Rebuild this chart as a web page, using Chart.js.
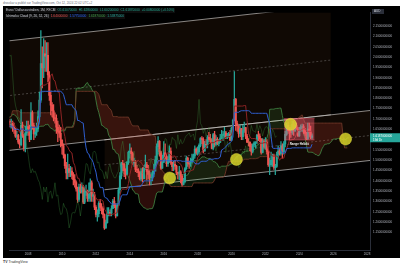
<!DOCTYPE html>
<html>
<head>
<meta charset="utf-8">
<script src="https://cdn.jsdelivr.net/npm/chart.js@4.4.1/dist/chart.umd.min.js"></script>
<style>
body{margin:0;width:400px;height:269px;background:#fff;overflow:hidden;position:relative;font-family:"Liberation Sans",Arial,sans-serif}
#hdr{position:absolute;left:3px;top:0;font-size:3px;line-height:6px;color:#6a6d78;white-space:nowrap}
#box{position:absolute;left:3px;top:6px;width:397px;height:252px;background:#000}
#leg{position:absolute;left:2px;top:2px;font-size:3.2px;line-height:5px;color:#d1d4dc;white-space:nowrap;z-index:2}
#leg div{background:rgba(16,16,16,.85);display:table;padding:0 1px;margin-bottom:.5px}
#leg span{margin-left:2px}
#ftr{position:absolute;left:3px;top:260px;font-size:3.5px;color:#333;white-space:nowrap}
#ftr b{font-size:3.5px;margin-right:1px}
</style>
</head>
<body>
<div id="hdr">drosskar a publié sur TradingView.com, Oct 12, 2024 22:02 UTC+2</div>
<div id="box">
  <canvas id="chart"></canvas>
  <div id="leg"><div id="leg1"></div><div id="leg2"></div></div>
</div>
<div id="ftr"><b>TV</b>TradingView</div>
<script>
// monthly EUR/AUD candles, first bar = July 2000
var startYear = 2000.5;
var firstOpen = 1.590;
var closes = [
 1.600,1.540,1.625,1.640,1.665,1.680,
 1.705,1.745,1.800,1.765,1.705,1.670,1.730,1.705,1.840,1.780,1.740,1.745,
 1.690,1.660,1.645,1.665,1.680,1.760,1.800,1.810,1.805,1.760,1.780,1.860,
 1.810,1.800,1.810,1.770,1.780,1.720,1.760,1.720,1.700,1.640,1.630,1.680,
 1.620,1.630,1.620,1.690,1.690,1.740,1.720,1.730,1.710,1.680,1.700,1.740,
 1.720,1.670,1.680,1.690,1.610,1.600,1.600,1.620,1.580,1.620,1.600,1.610,
 1.630,1.610,1.690,1.640,1.670,1.720,1.700,1.680,1.660,1.690,1.690,1.673,
 1.682,1.660,1.651,1.617,1.620,1.587,1.576,1.669,1.618,1.556,1.632,1.663,
 1.653,1.601,1.731,1.668,1.628,1.636,1.652,1.711,1.791,1.968,1.948,2.016,
 2.004,2.009,1.913,1.814,1.767,1.740,1.705,1.703,1.660,1.640,1.631,1.596,
 1.571,1.526,1.474,1.438,1.459,1.441,1.447,1.428,1.406,1.392,1.361,1.310,
 1.370,1.346,1.370,1.297,1.345,1.351,1.315,1.342,1.391,1.326,1.332,1.272,
 1.237,1.241,1.291,1.271,1.266,1.237,1.172,1.198,1.243,1.247,1.244,1.266,
 1.302,1.280,1.230,1.282,1.357,1.424,1.484,1.480,1.448,1.433,1.490,1.538,
 1.545,1.532,1.487,1.491,1.456,1.453,1.440,1.410,1.445,1.411,1.465,1.479,
 1.446,1.431,1.415,1.415,1.434,1.447,1.502,1.566,1.592,1.541,1.462,1.490,
 1.536,1.516,1.483,1.503,1.544,1.491,1.469,1.480,1.472,1.441,1.436,1.444,
 1.423,1.383,1.396,1.459,1.510,1.485,1.481,1.496,1.506,1.521,1.554,1.536,
 1.541,1.572,1.605,1.601,1.544,1.577,1.575,1.611,1.601,1.598,1.557,1.624,
 1.577,1.601,1.580,1.588,1.607,1.620,1.624,1.633,1.614,1.619,1.627,1.597,
 1.656,1.693,1.795,1.678,1.667,1.630,1.653,1.614,1.644,1.658,1.617,1.588,
 1.587,1.567,1.543,1.574,1.584,1.586,1.622,1.617,1.604,1.538,1.591,1.563,
 1.588,1.543,1.478,1.479,1.499,1.521,1.465,1.470,1.528,1.545,1.533,1.570,
 1.541,1.579,1.625,1.669,1.643,1.641,1.635,1.674,1.642,1.668,1.651,1.618,
 1.645,1.661,1.663,1.651,1.630,1.605,1.651,1.636,1.6107,1.6187
];
var highs = [
 1.625,1.605,1.640,1.665,1.690,1.700,
 1.730,1.760,1.830,1.820,1.770,1.720,1.750,1.750,1.870,1.850,1.790,1.770,
 1.760,1.710,1.690,1.690,1.710,1.775,1.830,1.840,1.830,1.815,1.800,1.870,
 1.890,1.860,1.840,1.830,1.810,1.800,1.790,1.780,1.740,1.710,1.680,1.690,
 1.690,1.660,1.660,1.720,1.760,1.750,1.750,1.750,1.740,1.710,1.720,1.760,
 1.760,1.730,1.700,1.710,1.700,1.630,1.620,1.650,1.630,1.640,1.640,1.630,
 1.640,1.640,1.710,1.700,1.690,1.730,1.725,1.710,1.700,1.700,1.710,1.700,
 1.700,1.690,1.680,1.655,1.640,1.625,1.600,1.745,1.685,1.625,1.665,1.690,
 1.690,1.670,1.780,1.740,1.680,1.660,1.680,1.740,1.830,2.128,2.050,2.090,
 2.080,2.070,2.070,1.930,1.830,1.780,1.770,1.730,1.720,1.690,1.670,1.660,
 1.600,1.580,1.530,1.490,1.530,1.480,1.470,1.465,1.440,1.430,1.400,1.370,
 1.385,1.385,1.390,1.378,1.370,1.380,1.355,1.390,1.410,1.400,1.360,1.345,
 1.280,1.260,1.300,1.310,1.290,1.275,1.240,1.210,1.270,1.270,1.260,1.280,
 1.310,1.320,1.290,1.290,1.365,1.440,1.490,1.500,1.485,1.460,1.495,1.545,
 1.580,1.560,1.540,1.510,1.500,1.475,1.460,1.445,1.460,1.465,1.475,1.525,
 1.490,1.475,1.450,1.440,1.450,1.480,1.520,1.580,1.615,1.595,1.545,1.525,
 1.590,1.580,1.530,1.520,1.570,1.560,1.490,1.495,1.500,1.475,1.440,1.470,
 1.450,1.430,1.412,1.465,1.520,1.515,1.495,1.510,1.530,1.530,1.570,1.560,
 1.565,1.580,1.610,1.615,1.610,1.592,1.600,1.620,1.635,1.625,1.605,1.630,
 1.640,1.620,1.610,1.600,1.625,1.645,1.640,1.660,1.640,1.630,1.635,1.645,
 1.660,1.700,1.930,1.800,1.690,1.660,1.670,1.655,1.670,1.685,1.660,1.625,
 1.605,1.590,1.580,1.580,1.590,1.590,1.625,1.640,1.628,1.605,1.605,1.600,
 1.610,1.600,1.550,1.510,1.540,1.530,1.530,1.480,1.540,1.570,1.560,1.590,
 1.580,1.590,1.640,1.680,1.685,1.660,1.660,1.690,1.690,1.685,1.680,1.660,
 1.660,1.672,1.675,1.673,1.655,1.635,1.680,1.680,1.665,1.628
];
var lows = [
 1.560,1.525,1.535,1.595,1.620,1.640,
 1.660,1.690,1.730,1.740,1.690,1.650,1.660,1.680,1.700,1.760,1.720,1.700,
 1.670,1.640,1.620,1.630,1.645,1.670,1.740,1.770,1.770,1.750,1.750,1.770,
 1.800,1.780,1.760,1.750,1.740,1.700,1.700,1.690,1.670,1.620,1.600,1.620,
 1.600,1.590,1.600,1.610,1.670,1.680,1.700,1.710,1.680,1.650,1.670,1.690,
 1.700,1.660,1.650,1.650,1.600,1.580,1.570,1.580,1.570,1.570,1.590,1.590,
 1.600,1.600,1.600,1.630,1.630,1.660,1.680,1.670,1.650,1.650,1.670,1.660,
 1.655,1.640,1.630,1.610,1.600,1.580,1.560,1.570,1.610,1.545,1.540,1.620,
 1.620,1.590,1.600,1.650,1.600,1.610,1.620,1.640,1.690,1.780,1.850,1.900,
 1.930,1.930,1.880,1.790,1.720,1.710,1.690,1.680,1.630,1.590,1.610,1.565,
 1.530,1.510,1.460,1.410,1.410,1.420,1.420,1.410,1.380,1.370,1.350,1.295,
 1.300,1.340,1.340,1.290,1.290,1.330,1.300,1.300,1.300,1.300,1.300,1.260,
 1.225,1.205,1.225,1.255,1.240,1.220,1.165,1.170,1.195,1.230,1.230,1.230,
 1.265,1.270,1.220,1.230,1.280,1.340,1.410,1.450,1.420,1.410,1.430,1.480,
 1.510,1.500,1.480,1.470,1.445,1.440,1.420,1.405,1.400,1.395,1.410,1.455,
 1.405,1.410,1.380,1.380,1.400,1.420,1.470,1.480,1.530,1.520,1.455,1.460,
 1.490,1.505,1.470,1.470,1.490,1.480,1.450,1.450,1.455,1.430,1.410,1.405,
 1.390,1.375,1.380,1.390,1.455,1.470,1.460,1.470,1.490,1.500,1.510,1.530,
 1.525,1.530,1.565,1.580,1.535,1.545,1.560,1.560,1.590,1.585,1.555,1.550,
 1.565,1.570,1.575,1.570,1.585,1.605,1.595,1.610,1.605,1.605,1.610,1.595,
 1.595,1.640,1.690,1.645,1.640,1.610,1.615,1.600,1.600,1.635,1.605,1.585,
 1.570,1.545,1.525,1.535,1.565,1.560,1.580,1.595,1.590,1.530,1.535,1.555,
 1.552,1.530,1.470,1.430,1.470,1.470,1.455,1.430,1.465,1.510,1.525,1.525,
 1.510,1.530,1.565,1.620,1.630,1.600,1.610,1.625,1.620,1.640,1.650,1.615,
 1.615,1.640,1.640,1.630,1.620,1.600,1.600,1.615,1.605,1.602
];
var yearTicks = [2008,2010,2012,2014,2016,2018,2020,2022,2024,2026,2028];
var priceTicks = [2.15,2.10,2.05,2.00,1.95,1.90,1.85,1.80,1.75,1.70,1.65,1.60,1.55,1.50,1.45,1.40,1.35,1.30,1.25,1.20,1.15];

// drawings (parallel channels, range box, marks)
var bigChanX = [2006.0, 2025.86];
var bigChanTop = [2.0708, 2.2510];
var bigChanMid = [1.8053, 1.9855];
var bigChanBot = [1.5398, 1.7200];
var lowChanX = [2012.5, 2028.5];
var lowChanTop = [1.5988, 1.7439];
var lowChanMid = [1.4778, 1.6229];
var lowChanBot = [1.3568, 1.5019];
var rangeX = [2023.1, 2024.9];
var rangeHigh = [1.702, 1.702];
var rangeLow = [1.598, 1.598];
var markX = [2016.35, 2020.29, 2023.48, 2026.73];
var markY = [1.414, 1.504, 1.674, 1.603];

var n = closes.length;
function t(i){ return startYear + i/12; }
function pts(xs, ys){ return xs.map(function(x,i){ return {x:x, y:ys[i]}; }); }
function mid(p, i){
  var h = -Infinity, l = Infinity;
  for (var k = i-p+1; k <= i; k++){ h = Math.max(h, highs[k]); l = Math.min(l, lows[k]); }
  return (h+l)/2;
}

var bodies = [], wicks = [], cols = [];
for (var i = 0; i < n; i++){
  var o = i ? closes[i-1] : firstOpen;
  var c = closes[i];
  cols.push(c >= o ? '#26a69a' : '#ef5350');
  bodies.push({x:t(i), y:[o, c]});
  wicks.push({x:t(i), y:[lows[i], highs[i]]});
}

var conv = [], base = [], lag = [], spanA = [], spanB = [];
for (var i = 0; i < n; i++){
  if (i >= 8) conv.push({x:t(i), y:mid(9,i)});
  if (i >= 25) base.push({x:t(i), y:mid(26,i)});
  if (i >= 25) lag.push({x:t(i-25), y:closes[i]});
  if (i >= 51){
    spanA.push({x:t(i+25), y:(mid(9,i)+mid(26,i))/2});
    spanB.push({x:t(i+25), y:mid(52,i)});
  }
}

var line = function(d, col, extra){
  var o = {type:'line', data:d, borderColor:col, borderWidth:1, pointRadius:0, fill:false, tension:0};
  for (var k in extra) o[k] = extra[k];
  return o;
};
var chanFill = 'rgba(150,85,40,0.11)';

var overlay = {
  id: 'overlay',
  afterDraw: function(chart){
    var ctx = chart.ctx, a = chart.chartArea, ys = chart.scales.y, xs = chart.scales.x;
    ctx.save();
    // currency box
    ctx.fillStyle = '#2a2e39';
    ctx.fillRect(a.right+2, 3, 12, 5);
    ctx.fillStyle = '#d1d4dc';
    ctx.font = '3px "Liberation Sans"';
    ctx.textBaseline = 'middle';
    ctx.fillText('AUD', a.right+4, 5.6);
    // last price label
    var last = closes[n-1];
    var py = ys.getPixelForValue(last);
    ctx.fillStyle = '#26a69a';
    ctx.fillRect(a.right, py-2.5, 30, 9);
    ctx.fillStyle = '#fff';
    ctx.fillText(last.toFixed(10), a.right+3, py+0.5);
    ctx.fillText('19d 1h', a.right+3, py+4.5);
    // range label
    ctx.font = 'bold 3px "Liberation Sans"';
    ctx.textAlign = 'center';
    ctx.fillStyle = '#e8e8e8';
    ctx.fillText('Range Hebdo', xs.getPixelForValue((rangeX[0]+rangeX[1])/2), ys.getPixelForValue(rangeLow[0]) + 4);
    ctx.restore();
  }
};

var chart = new Chart(document.getElementById('chart'), {
  type: 'bar',
  data: {
    datasets: [
      line(pts(bigChanX, bigChanTop), 'rgba(205,205,205,0.85)', {borderWidth:0.8, order:100}),
      line(pts(bigChanX, bigChanBot), 'rgba(205,205,205,0.85)', {borderWidth:0.8, order:99, fill:'-1', backgroundColor:chanFill}),
      line(pts(bigChanX, bigChanMid), 'rgba(170,170,170,0.6)', {borderWidth:0.6, borderDash:[2,2], order:98}),
      line(pts(lowChanX, lowChanTop), 'rgba(205,205,205,0.85)', {borderWidth:0.8, order:97}),
      line(pts(lowChanX, lowChanBot), 'rgba(205,205,205,0.85)', {borderWidth:0.8, order:96, fill:'-1', backgroundColor:chanFill}),
      line(pts(lowChanX, lowChanMid), 'rgba(170,170,170,0.6)', {borderWidth:0.6, borderDash:[2,2], order:95}),
      line(spanA, 'rgba(67,140,71,0.8)', {order:60, fill:{target:'+1', above:'rgba(67,160,71,0.16)', below:'rgba(200,60,45,0.22)'}}),
      line(spanB, 'rgba(110,55,40,0.9)', {order:59}),
      {type:'bar', data:wicks, backgroundColor:cols, barThickness:0.6, grouped:false, order:41},
      {type:'bar', data:bodies, backgroundColor:cols, barThickness:1.4, grouped:false, order:40},
      line(lag, 'rgba(67,160,71,0.45)', {borderWidth:0.7, order:30}),
      line(conv, '#8e2424', {order:29}),
      line(base, '#2f5fd0', {order:28}),
      line(pts(rangeX, rangeHigh), 'rgba(240,90,110,0.7)', {borderWidth:0.6, order:20}),
      line(pts(rangeX, rangeLow), 'rgba(240,90,110,0.7)', {borderWidth:0.6, order:19, fill:'-1', backgroundColor:'rgba(240,90,110,0.45)'}),
      {type:'bubble', data:pts(markX, markY), radius:6, backgroundColor:'rgba(215,210,40,0.85)', borderColor:'rgba(235,230,70,0.9)', borderWidth:0.5, order:5}
    ]
  },
  options: {
    responsive: true,
    maintainAspectRatio: false,
    animation: false,
    events: [],
    layout: {padding: 0},
    plugins: {legend:{display:false}, tooltip:{enabled:false}},
    scales: {
      x: {
        type: 'linear', min: 2006.90, max: 2028.17, offset: false,
        grid: {display:false, drawTicks:false},
        border: {display:true, color:'#2a2e39'},
        ticks: {color:'#b2b5be', font:{size:3, family:'Liberation Sans'}, padding:2, maxRotation:0,
                callback: function(v){ return String(v); }},
        afterBuildTicks: function(s){ s.ticks = yearTicks.map(function(v){ return {value:v}; }); },
        afterFit: function(s){ s.height = 8; }
      },
      y: {
        type: 'linear', position: 'right', min: 1.065, max: 2.216,
        grid: {display:false, drawTicks:false},
        border: {display:true, color:'#2a2e39'},
        ticks: {color:'#b2b5be', font:{size:3, family:'Liberation Sans'}, padding:3,
                callback: function(v){ return v.toFixed(10); }},
        afterBuildTicks: function(s){ s.ticks = priceTicks.map(function(v){ return {value:v}; }); },
        afterFit: function(s){ s.width = 30; }
      }
    }
  },
  plugins: [overlay]
});

// legend text from the data
var last = n-1;
var o = closes[last-1], c = closes[last], chg = c - o;
document.getElementById('leg1').innerHTML = 'Euro / Dollar australien, 1M, FXCM' +
  '<span style="color:#22ab94">O' + o.toFixed(8) + '</span>' +
  '<span style="color:#22ab94">H' + highs[last].toFixed(8) + '</span>' +
  '<span style="color:#22ab94">L' + lows[last].toFixed(8) + '</span>' +
  '<span style="color:#22ab94">C' + c.toFixed(8) + '</span>' +
  '<span style="color:#22ab94">+' + chg.toFixed(8) + ' (+' + (chg/o*100).toFixed(2) + '%)</span>';
document.getElementById('leg2').innerHTML = 'Ichimoku Cloud (9, 26, 52, 26)' +
  '<span style="color:#ef5350">' + mid(9,last).toFixed(8) + '</span>' +
  '<span style="color:#2962ff">' + mid(26,last).toFixed(8) + '</span>' +
  '<span style="color:#43a047">' + c.toFixed(8) + '</span>' +
  '<span style="color:#26a69a">' + ((mid(9,last-25)+mid(26,last-25))/2).toFixed(8) + '</span>';
</script>
</body>
</html>
